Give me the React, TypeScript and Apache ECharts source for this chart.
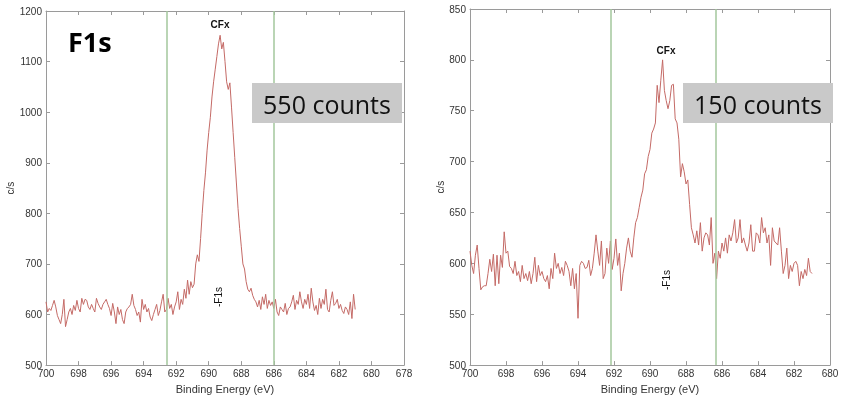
import { useEffect, useRef } from "react";
import * as echarts from "echarts";

// Binding energy grid: 700.0 eV down to 681.0 eV, 0.1 eV steps
const E_START = 700;
const E_STEP = 0.1;

const LEFT_COUNTS = [
  625, 605, 612, 608, 618, 628, 615, 598, 590, 582,
  600, 630, 576, 590, 605, 612, 600, 618, 608, 628,
  612, 605, 632, 620, 630, 628, 615, 610, 620, 612,
  605, 632, 622, 615, 610, 620, 625, 630, 620, 612,
  598, 622, 605, 582, 615, 600, 610, 590, 582, 605,
  612, 615, 620, 640, 618, 610, 598, 605, 585, 630,
  610, 620, 605, 612, 595, 588, 600, 610, 620, 598,
  608, 625, 640, 605, 610, 632, 612, 620, 600, 615,
  625, 645, 610, 630, 620, 650, 632, 668, 640, 665,
  653, 660, 700, 718, 705, 750, 800, 845, 880, 925,
  960, 990, 1030, 1060, 1085, 1110, 1135, 1152, 1125, 1138,
  1100, 1060, 1045, 1058, 1010, 960, 910, 860, 810, 770,
  735, 700, 690, 665, 650, 645, 652, 638, 630, 625,
  615, 628, 610, 635, 620, 640, 612, 628, 618, 625,
  612, 630, 605, 598, 615, 610, 605, 622, 600, 612,
  615, 625, 638, 610, 628, 620, 645, 625, 612, 630,
  620, 640, 612, 652, 625, 608, 618, 600, 632, 612,
  630, 620, 650, 610, 605, 628, 645, 618, 622, 630,
  612, 620, 608, 602, 615, 610, 600, 625, 592, 640,
  610,
];

const RIGHT_COUNTS = [
  612, 598, 590, 608, 618, 595, 574, 577, 578, 578,
  590, 604, 592, 609, 578, 608, 580, 608, 596, 631,
  610, 612, 597, 595, 590, 602, 588, 592, 582, 598,
  585, 590, 583, 592, 580, 590, 606, 582, 598, 588,
  592, 585, 582, 588, 575, 595, 585, 610, 595, 600,
  590, 596, 588, 602, 598, 592, 578, 595, 575, 590,
  546, 598, 602, 600, 595, 596, 603, 588, 595, 610,
  628, 612, 598, 622, 585, 590, 615, 600, 622, 594,
  605, 624, 598, 610, 573, 590, 600, 615, 625, 612,
  606, 625, 640, 645, 655, 665, 672, 688, 692, 705,
  712, 728, 732, 738, 775, 758, 780, 800, 770, 760,
  752, 760, 775, 776, 742, 738, 722, 685, 698, 690,
  678, 682, 658, 635, 628, 620, 632, 618, 640, 612,
  625, 630, 628, 618, 645, 600, 610, 585, 612, 605,
  620, 612, 625, 610, 628, 622, 630, 643, 620, 625,
  643, 620, 625, 618, 612, 620, 638, 612, 612, 630,
  628, 620, 645, 630, 635, 620, 628, 598, 635, 622,
  620, 618, 635, 612, 590, 598, 615, 585, 598, 592,
  600, 602, 598, 578, 592, 585, 594, 588, 605, 592,
  590,
];

const LEFT_MARKERS = [692.6, 686.0];
const RIGHT_MARKERS = [692.2, 686.35];

const LEFT_X = { min: 678, max: 700, interval: 2 };
const RIGHT_X = { min: 680, max: 700, interval: 2 };
const LEFT_Y = { min: 500, max: 1200, interval: 100 };
const RIGHT_Y = { min: 500, max: 850, interval: 50 };

const X_NAME = "Binding Energy (eV)";
const Y_NAME = "c/s";

const toPairs = (vals: number[]) =>
  vals.map((v, i) => [Math.round((E_START - i * E_STEP) * 10) / 10, v]);

const AXIS_COLOR = "#9a9a9a";
const LABEL_COLOR = "#333";
const LINE_COLOR = "#c46a66";
const GREEN = "#a3c79d";
const FONT = "Liberation Sans, Arial";

export default function App() {
  const ref = useRef<HTMLDivElement>(null);

  useEffect(() => {
    if (!ref.current) return;
    document.body.style.margin = "0";
    document.body.style.overflow = "hidden";
    const chart = echarts.init(ref.current, undefined, { renderer: "svg" });

    const xAxisBase = (gridIndex: number, r: any, top: boolean) => ({
      type: "value",
      gridIndex,
      inverse: true,
      min: r.min,
      max: r.max,
      interval: r.interval,
      position: top ? "top" : "bottom",
      name: top ? "" : X_NAME,
      nameLocation: "middle",
      nameGap: 14,
      nameTextStyle: { color: LABEL_COLOR, fontSize: 11, fontFamily: FONT },
      axisLine: { show: true, onZero: false, lineStyle: { color: AXIS_COLOR, width: 1 } },
      axisTick: { show: true, inside: true, length: 4, lineStyle: { color: AXIS_COLOR } },
      axisLabel: {
        show: !top,
        color: LABEL_COLOR,
        fontSize: 10,
        margin: 3,
        fontFamily: FONT,
        formatter: (v: number) => String(v),
      },
      splitLine: { show: false },
    });

    const yAxisBase = (gridIndex: number, r: any, right: boolean, gap: number) => ({
      type: "value",
      gridIndex,
      min: r.min,
      max: r.max,
      interval: r.interval,
      position: right ? "right" : "left",
      name: right ? "" : Y_NAME,
      nameLocation: "middle",
      nameGap: gap,
      nameTextStyle: { color: LABEL_COLOR, fontSize: 10, fontFamily: FONT },
      axisLine: { show: true, onZero: false, lineStyle: { color: AXIS_COLOR, width: 1 } },
      axisTick: { show: true, inside: true, length: 4, lineStyle: { color: AXIS_COLOR } },
      axisLabel: {
        show: !right,
        color: LABEL_COLOR,
        fontSize: 10,
        margin: 4,
        fontFamily: FONT,
        formatter: (v: number) => String(v),
      },
      splitLine: { show: false },
    });

    const markLine = (xs: number[]) => ({
      silent: true,
      symbol: "none",
      label: { show: false },
      lineStyle: { color: GREEN, width: 1.5, type: "solid" },
      data: xs.map((x) => ({ xAxis: x })),
    });

    const smallText = (x: number, y: number, text: string, bold: boolean, rotation = 0) => ({
      type: "text",
      x,
      y,
      rotation,
      z: 100,
      style: {
        text,
        fill: "#111",
        font: `${bold ? "bold " : ""}10px "Liberation Sans", Arial`,
        align: "center",
        verticalAlign: "middle",
      },
    });

    const box = (x: number, text: string) => ({
      type: "group",
      z: 100,
      children: [
        {
          type: "rect",
          z: 100,
          shape: { x, y: 83, width: 150, height: 40 },
          style: { fill: "#c9c9c9" },
        },
        {
          type: "text",
          z: 101,
          x: x + 75,
          y: 104,
          style: {
            text,
            fill: "#111",
            font: '25px "Open Sans"',
            align: "center",
            verticalAlign: "middle",
          },
        },
      ],
    });

    chart.setOption({
      animation: false,
      grid: [
        { left: 46, right: 446, top: 11, bottom: 31 },
        { left: 470, right: 20, top: 9, bottom: 31 },
      ],
      xAxis: [
        xAxisBase(0, LEFT_X, false),
        xAxisBase(0, LEFT_X, true),
        xAxisBase(1, RIGHT_X, false),
        xAxisBase(1, RIGHT_X, true),
      ],
      yAxis: [
        yAxisBase(0, LEFT_Y, false, 30),
        yAxisBase(0, LEFT_Y, true, 0),
        yAxisBase(1, RIGHT_Y, false, 24),
        yAxisBase(1, RIGHT_Y, true, 0),
      ],
      series: [
        {
          type: "line",
          xAxisIndex: 0,
          yAxisIndex: 0,
          data: toPairs(LEFT_COUNTS),
          showSymbol: false,
          lineStyle: { color: LINE_COLOR, width: 1 },
          markLine: markLine(LEFT_MARKERS),
        },
        {
          type: "line",
          xAxisIndex: 2,
          yAxisIndex: 2,
          data: toPairs(RIGHT_COUNTS),
          showSymbol: false,
          lineStyle: { color: LINE_COLOR, width: 1 },
          markLine: markLine(RIGHT_MARKERS),
        },
      ],
      graphic: [
        {
          type: "text",
          left: 68,
          top: 28,
          z: 100,
          style: { text: "F1s", fill: "#000", font: 'bold 27px "Open Sans"' },
        },
        smallText(220, 24, "CFx", true),
        smallText(666, 50, "CFx", true),
        smallText(218, 297, "-F1s", false, Math.PI / 2),
        smallText(666, 280, "-F1s", false, Math.PI / 2),
        box(252, "550 counts"),
        box(683, "150 counts"),
      ],
    });

    return () => chart.dispose();
  }, []);

  return (
    <div
      ref={ref}
      style={{ position: "fixed", left: 0, top: 0, width: 850, height: 399 }}
    />
  );
}
